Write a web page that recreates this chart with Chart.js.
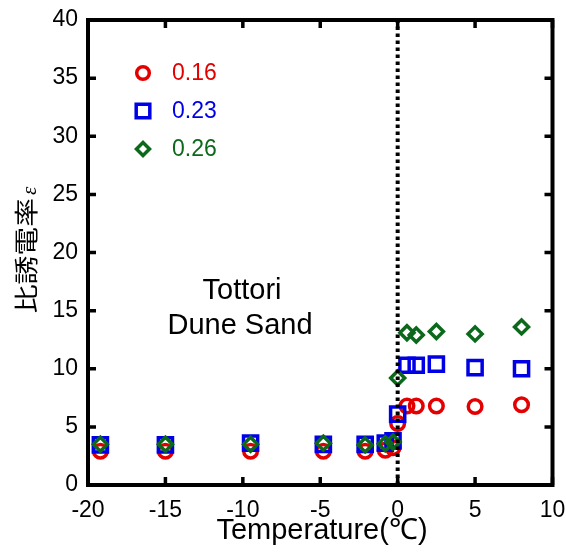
<!DOCTYPE html>
<html>
<head>
<meta charset="utf-8">
<script src="https://cdn.jsdelivr.net/npm/chart.js@4/dist/chart.umd.min.js"></script>
<style>
  html, body { margin: 0; padding: 0; background: #fff; }
  #wrap { width: 566px; height: 555px; }
</style>
</head>
<body>
<div id="wrap"><canvas id="chart" width="566" height="555"></canvas></div>
<script>
// temperature (deg C) shared by all three series
const temps = [-19.2, -15, -9.5, -4.8, -2.1, -0.8, -0.3, 0, 0.6, 1.2, 2.5, 5, 8];

// relative permittivity for each water content
const eps016 = [2.9, 2.9, 2.9, 2.9, 2.9, 3.0, 3.2, 5.3, 6.8, 6.8, 6.8, 6.75, 6.9];
const eps023 = [3.45, 3.45, 3.6, 3.5, 3.5, 3.6, 3.8, 6.1, 10.3, 10.3, 10.4, 10.1, 10.0];
const eps026 = [3.5, 3.5, 3.5, 3.6, 3.45, 3.55, 3.7, 9.2, 13.1, 12.9, 13.2, 13.0, 13.6];

const legendLabels = ['0.16', '0.23', '0.26'];
const xTicks = [-20, -15, -10, -5, 0, 5, 10];
const yTicks = [0, 5, 10, 15, 20, 25, 30, 35, 40];
const meltLine = [{x: 0, y: 0}, {x: 0, y: 40}];

const RED = 'rgb(228,0,0)';
const BLUE = 'rgb(0,0,230)';
const GREEN = 'rgb(12,105,28)';
const FONT = '"Liberation Sans", Arial, sans-serif';

const toPts = (ys) => temps.map((t, i) => ({x: t, y: ys[i]}));

// inward ticks, box, legend and text like the original figure
const framePlugin = {
  id: 'frame',
  afterDraw(chart) {
    const ctx = chart.ctx;
    const a = chart.chartArea;
    const xs = chart.scales.x, ys = chart.scales.y;
    ctx.save();
    ctx.strokeStyle = '#000';
    ctx.lineWidth = 3.5;
    ctx.beginPath();
    xTicks.forEach(v => {
      const px = xs.getPixelForValue(v);
      ctx.moveTo(px, a.bottom); ctx.lineTo(px, a.bottom - 8);
      ctx.moveTo(px, a.top); ctx.lineTo(px, a.top + 8);
    });
    yTicks.forEach(v => {
      const py = ys.getPixelForValue(v);
      ctx.moveTo(a.left, py); ctx.lineTo(a.left + 8, py);
      ctx.moveTo(a.right, py); ctx.lineTo(a.right - 8, py);
    });
    ctx.stroke();
    ctx.lineWidth = 4;
    ctx.strokeRect(a.left, a.top, a.right - a.left, a.bottom - a.top);

    // legend
    const colors = [RED, BLUE, GREEN];
    const shapes = ['circle', 'square', 'diamond'];
    ctx.lineWidth = 3.5;
    legendLabels.forEach((lab, i) => {
      const cx = 143, cy = 73 + i * 38;
      ctx.strokeStyle = colors[i];
      ctx.beginPath();
      if (shapes[i] === 'circle') {
        ctx.arc(cx, cy, 6.3, 0, Math.PI * 2);
      } else if (shapes[i] === 'square') {
        ctx.rect(cx - 6.8, cy - 6.8, 13.6, 13.6);
      } else {
        ctx.moveTo(cx, cy - 6.5); ctx.lineTo(cx + 6.5, cy);
        ctx.lineTo(cx, cy + 6.5); ctx.lineTo(cx - 6.5, cy); ctx.closePath();
      }
      ctx.stroke();
      ctx.fillStyle = colors[i];
      ctx.font = '23px ' + FONT;
      ctx.textAlign = 'left';
      ctx.textBaseline = 'middle';
      ctx.fillText(lab, 172, cy + 1);
    });

    // sample name
    ctx.fillStyle = '#000';
    ctx.font = '29px ' + FONT;
    ctx.textAlign = 'center';
    ctx.fillText('Tottori', 242, 291);
    ctx.fillText('Dune Sand', 240, 326);

    // x title
    ctx.font = '29px ' + FONT;
    ctx.fillText('Temperature(\u2103)', 322, 531);

    // y title, rotated
    ctx.translate(26, 250);
    ctx.rotate(-Math.PI / 2);
    ctx.font = '24px "Noto Sans CJK JP", sans-serif';
    const kanji = '比誘電率';
    const kw = ctx.measureText(kanji).width * 1.2;
    ctx.font = 'italic 21px "Liberation Serif", serif';
    const ew = ctx.measureText('ε').width;
    const start = -(kw + 3 + ew) / 2;
    ctx.save();
    ctx.translate(start, 0);
    ctx.scale(1.2, 1);
    ctx.font = '24px "Noto Sans CJK JP", sans-serif';
    ctx.textAlign = 'left';
    ctx.fillText(kanji, 0, 0);
    ctx.restore();
    ctx.font = 'italic 21px "Liberation Serif", serif';
    ctx.textAlign = 'left';
    ctx.fillText('ε', start + kw + 3, 4);
    ctx.restore();
  }
};

new Chart(document.getElementById('chart'), {
  type: 'scatter',
  data: {
    datasets: [
      {
        label: 'melt', data: meltLine, showLine: true, order: 0,
        borderColor: '#000', borderWidth: 4, borderDash: [3.5, 3.5],
        pointRadius: 0
      },
      {
        label: legendLabels[2], data: toPts(eps026), order: 1,
        pointStyle: 'rectRot', pointRadius: 7, borderWidth: 3.5,
        borderColor: GREEN, backgroundColor: 'transparent'
      },
      {
        label: legendLabels[1], data: toPts(eps023), order: 2,
        pointStyle: 'rect', pointRadius: 10, borderWidth: 3.5,
        borderColor: BLUE, backgroundColor: 'transparent'
      },
      {
        label: legendLabels[0], data: toPts(eps016), order: 3,
        pointStyle: 'circle', pointRadius: 6.8, borderWidth: 3.5,
        borderColor: RED, backgroundColor: 'transparent'
      }
    ]
  },
  options: {
    responsive: false,
    animation: false,
    layout: { padding: { top: 20, right: 13, left: 0, bottom: 0 } },
    plugins: { legend: { display: false }, tooltip: { enabled: false } },
    scales: {
      x: {
        type: 'linear', min: -20, max: 10,
        afterFit: (s) => { s.height = 70; s.paddingRight = 0; s.paddingLeft = 0; },
        afterBuildTicks: (s) => { s.ticks = xTicks.map(v => ({value: v})); },
        grid: { display: false, drawTicks: false },
        border: { display: false },
        ticks: { color: '#000', font: { size: 23, family: FONT }, padding: 12, maxRotation: 0 }
      },
      y: {
        type: 'linear', min: 0, max: 40,
        afterFit: (s) => { s.width = 88; s.paddingTop = 0; s.paddingBottom = 0; },
        afterBuildTicks: (s) => { s.ticks = yTicks.map(v => ({value: v})); },
        grid: { display: false, drawTicks: false },
        border: { display: false },
        ticks: { color: '#000', font: { size: 23, family: FONT }, padding: 10 }
      }
    }
  },
  plugins: [framePlugin]
});
</script>
</body>
</html>
